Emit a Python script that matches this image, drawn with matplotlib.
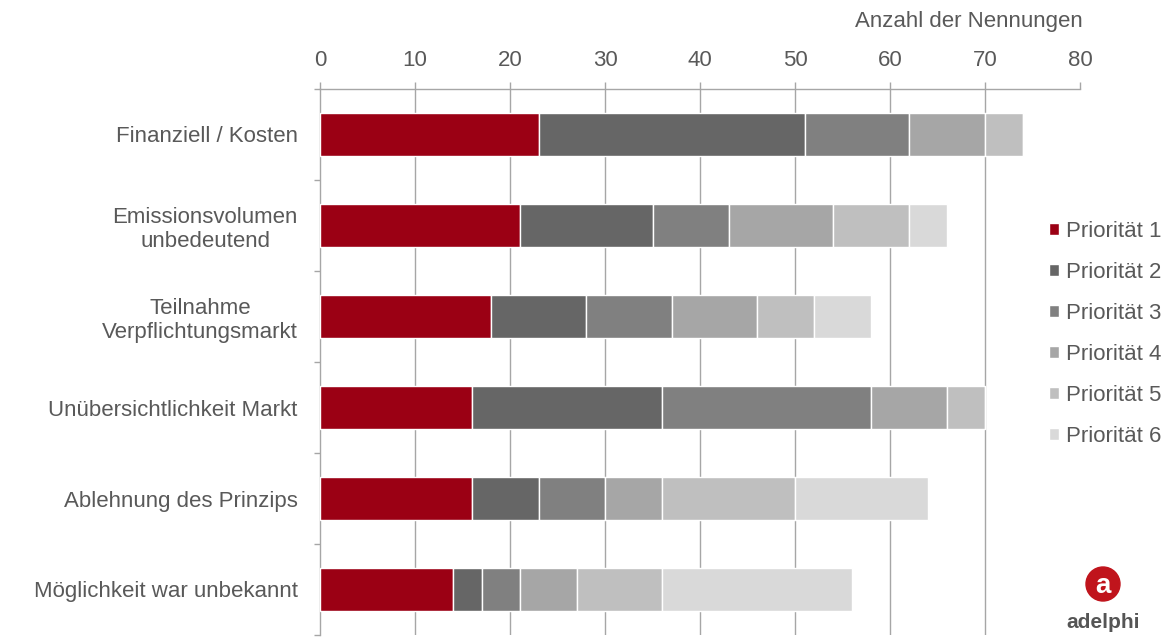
import matplotlib
matplotlib.use("Agg")
import matplotlib.pyplot as plt
from matplotlib.patches import Circle
import numpy as np

plt.rcParams["font.family"] = ["Liberation Sans", "DejaVu Sans"]

categories = [
    "Finanziell / Kosten",
    "Emissionsvolumen\nunbedeutend",
    "Teilnahme\nVerpflichtungsmarkt",
    "Unübersichtlichkeit Markt",
    "Ablehnung des Prinzips",
    "Möglichkeit war unbekannt",
]
series_names = ["Priorität 1", "Priorität 2", "Priorität 3",
                "Priorität 4", "Priorität 5", "Priorität 6"]
prio1 = [23, 21, 18, 16, 16, 14]
prio2 = [28, 14, 10, 20, 7, 3]
prio3 = [11, 8, 9, 22, 7, 4]
prio4 = [8, 11, 9, 8, 6, 6]
prio5 = [4, 8, 6, 4, 14, 9]
prio6 = [0, 4, 6, 0, 14, 20]
x_ticks = [0, 10, 20, 30, 40, 50, 60, 70, 80]

COLORS = ["#9b0014", "#666666", "#808080", "#a6a6a6", "#bfbfbf", "#d9d9d9"]
TEXT = "#595959"
LINE = "#a6a6a6"
FS = 16

fig = plt.figure(figsize=(11.75, 6.37), dpi=100)
ax = fig.add_axes([320 / 1175, 1 - 635 / 637, 760 / 1175, 546 / 637])

y = np.arange(len(categories))
left = np.zeros(len(categories))
for name, vals, col in zip(series_names,
                           [prio1, prio2, prio3, prio4, prio5, prio6], COLORS):
    ax.barh(y, vals, left=left, height=0.47, color=col, edgecolor="white",
            linewidth=1.0, label=name, zorder=3)
    left += np.array(vals)

# gridlines (not on 0 and 80)
for t in x_ticks[1:-1]:
    ax.axvline(t, color=LINE, lw=1.0, zorder=1)

ax.set_xlim(x_ticks[0], x_ticks[-1])
ax.set_ylim(len(categories) - 0.5, -0.5)
ax.xaxis.tick_top()
ax.set_xticks(x_ticks)
ax.tick_params(axis="x", length=5, width=1.0, color=LINE, labelsize=FS,
               labelcolor=TEXT, pad=8)

ax.set_yticks(np.arange(len(categories) + 1) - 0.5)
ax.set_yticklabels([])
ax.tick_params(axis="y", which="major", length=4, width=1.0, color=LINE)
ax.set_yticks(y, minor=True)
ax.set_yticklabels(categories, minor=True, fontsize=FS, color=TEXT,
                   multialignment="center")
ax.tick_params(axis="y", which="minor", length=0, pad=16)

for s in ["right", "bottom"]:
    ax.spines[s].set_visible(False)
for s in ["top", "left"]:
    ax.spines[s].set_color(LINE)
    ax.spines[s].set_linewidth(1.0)

fig.text(1083 / 1175, 1 - 22 / 637, "Anzahl der Nennungen", ha="right",
         va="center", fontsize=FS, color=TEXT)

leg = fig.legend(*ax.get_legend_handles_labels(), loc="center left",
                 bbox_to_anchor=(1049 / 1175, 1 - 334 / 637), frameon=False,
                 fontsize=FS, handlelength=0.45, handleheight=0.45,
                 handletextpad=0.3, labelspacing=0.9, borderaxespad=0,
                 borderpad=0)
for t in leg.get_texts():
    t.set_color(TEXT)

# adelphi logo
lx, ly = 1103 / 1175, 1 - 584 / 637
fig.patches.append(Circle((lx * 1175, ly * 637), 17,
                          transform=None, color="#c0141c", zorder=5))
fig.text(lx, ly - 0.003, "a", ha="center", va="center", fontsize=20,
         color="white", fontweight="bold", zorder=6)
fig.text(lx, 1 - 623 / 637, "adelphi", ha="center", va="center",
         fontsize=15, fontweight="bold", color="#555555")

fig.savefig("out.png", dpi=100)
